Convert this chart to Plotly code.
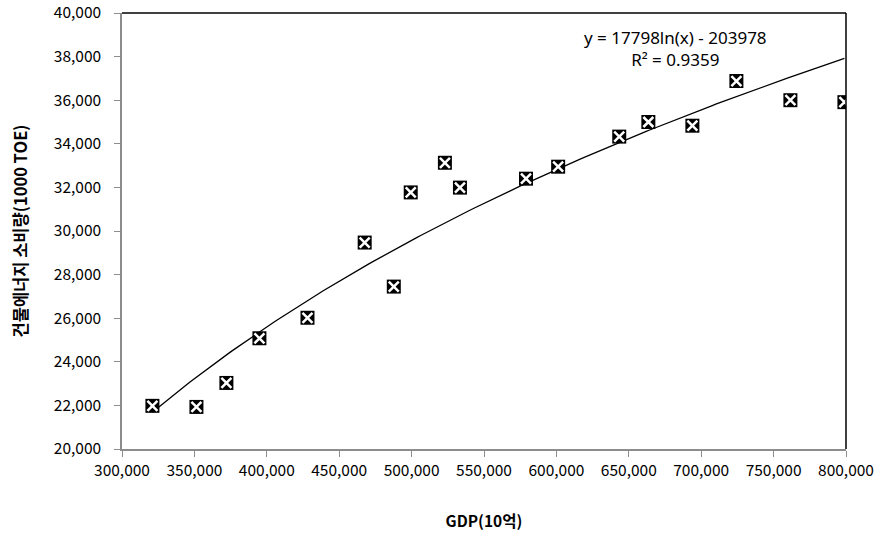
import numpy as np
import plotly.graph_objects as go

# GDP (10억) and building energy consumption (1000 TOE)
gdp = [321000, 351400, 372100, 394900, 428100, 467600, 487700, 499400, 523000,
       533400, 579000, 601200, 643400, 663500, 693900, 724300, 761600, 798900]
energy = [21980, 21930, 23030, 25080, 26020, 29470, 27450, 31770, 33130,
          31990, 32400, 32950, 34330, 35000, 34830, 36880, 36000, 35910]

# Logarithmic trendline coefficients (as shown in the chart)
coef_a = 17798
coef_b = -203978
r2 = 0.9359

x_ticks = list(range(300000, 800001, 50000))
y_ticks = list(range(20000, 40001, 2000))

xt = np.linspace(min(gdp), max(gdp), 200)
yt = coef_a * np.log(xt) + coef_b

fig = go.Figure()
fig.add_trace(go.Scatter(x=xt, y=yt, mode="lines",
                         line=dict(color="black", width=1.3),
                         hoverinfo="skip", showlegend=False))
fig.add_trace(go.Scatter(x=gdp, y=energy, mode="markers",
                         marker=dict(symbol="square", size=14, color="black",
                                     line=dict(width=0)),
                         showlegend=False))
fig.add_trace(go.Scatter(x=gdp, y=energy, mode="markers",
                         marker=dict(symbol="x-thin-open", size=10, color="white",
                                     line=dict(color="white", width=2.5)),
                         hoverinfo="skip", showlegend=False))

axis_font = dict(family="Noto Sans CJK KR", size=15.5, color="black")

fig.update_layout(
    width=886, height=539,
    margin=dict(l=122, r=40, t=13, b=90, autoexpand=False),
    plot_bgcolor="white", paper_bgcolor="white",
    xaxis=dict(range=[300000, 800000], tickvals=x_ticks,
               ticktext=[f"{v:,}" for v in x_ticks],
               showgrid=False, zeroline=False,
               showline=True, linecolor="#8c8c8c", linewidth=2,
               ticks="outside", ticklen=6, tickcolor="#8c8c8c", tickwidth=1,
               tickfont=axis_font,
               title=dict(text="<b>GDP(10억)</b>",
                          font=dict(family="Noto Sans CJK KR", size=15.5, color="black"),
                          standoff=38)),
    yaxis=dict(range=[20000, 40000], tickvals=y_ticks,
               ticktext=[f"{v:,}" for v in y_ticks],
               showgrid=False, zeroline=False,
               showline=True, linecolor="#8c8c8c", linewidth=1.5,
               ticks="outside", ticklen=6, tickcolor="#8c8c8c", tickwidth=1,
               ticklabelstandoff=10,
               tickfont=axis_font,
               title=dict(text="<b>건물에너지 소비량(1000 TOE)</b>",
                          font=dict(family="Noto Sans CJK KR", size=16.5, color="black"),
                          standoff=22)),
    shapes=[
        dict(type="line", xref="paper", yref="paper", x0=0, x1=1, y0=1, y1=1,
             line=dict(color="black", width=1.5)),
        dict(type="line", xref="paper", yref="paper", x0=1, x1=1, y0=0, y1=1,
             line=dict(color="black", width=1.5)),
    ],
    annotations=[
        dict(xref="paper", yref="paper", x=0.764, y=0.918,
             xanchor="center", yanchor="middle",
             text=f"y = {coef_a}ln(x) - {abs(coef_b)}<br>R² = {r2}",
             showarrow=False, align="center",
             font=dict(family="Noto Sans", size=17, color="black")),
    ],
)

fig.write_html("out.html")
